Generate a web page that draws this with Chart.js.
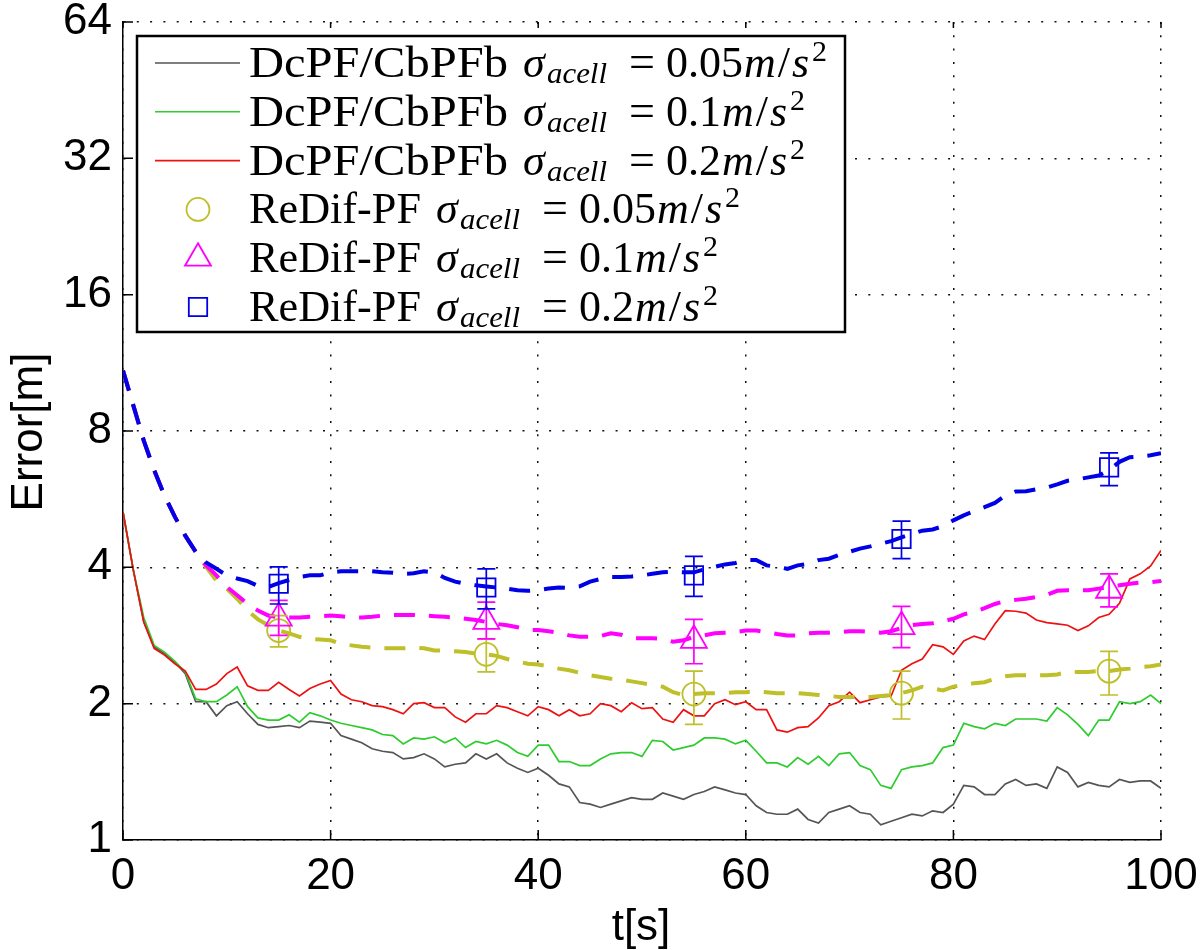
<!DOCTYPE html>
<html>
<head>
<meta charset="utf-8">
<script src="https://cdn.jsdelivr.net/npm/chart.js@4.4.0/dist/chart.umd.min.js"></script>
<style>
  body { margin: 0; background: #fff; }
  #contenedor { width: 1200px; height: 950px; }
</style>
</head>
<body>
<div id="contenedor"><canvas id="graficoError"></canvas></div>
<script>
// Eje de tiempo t[s]
const tiempos = Array.from({ length: 101 }, (_, i) => i);

// DcPF/CbPFb (lineas continuas)
const errorGris = [5.30, 3.94, 3.03, 2.67, 2.58, 2.47, 2.33, 2.02, 2.02, 1.88,
  1.98, 2.02, 1.90, 1.80, 1.77, 1.78, 1.79, 1.77, 1.83, 1.82,
  1.81, 1.70, 1.67, 1.64, 1.59, 1.57, 1.56, 1.51, 1.52, 1.55,
  1.51, 1.45, 1.47, 1.48, 1.55, 1.51, 1.55, 1.48, 1.44, 1.41,
  1.44, 1.39, 1.33, 1.31, 1.21, 1.20, 1.18, 1.20, 1.22, 1.24,
  1.23, 1.23, 1.27, 1.25, 1.23, 1.26, 1.28, 1.31, 1.29, 1.27,
  1.26, 1.19, 1.15, 1.14, 1.14, 1.17, 1.11, 1.09, 1.15, 1.17,
  1.19, 1.15, 1.14, 1.08, 1.10, 1.12, 1.14, 1.13, 1.16, 1.15,
  1.20, 1.32, 1.31, 1.26, 1.26, 1.33, 1.36, 1.32, 1.33, 1.30,
  1.45, 1.41, 1.31, 1.34, 1.32, 1.31, 1.36, 1.34, 1.35, 1.35, 1.30];
const errorVerde = [5.30, 3.94, 3.10, 2.69, 2.60, 2.48, 2.35, 2.05, 2.02, 2.02,
  2.09, 2.18, 1.97, 1.86, 1.84, 1.84, 1.89, 1.82, 1.91, 1.88,
  1.84, 1.81, 1.79, 1.77, 1.75, 1.71, 1.70, 1.63, 1.68, 1.67,
  1.69, 1.64, 1.68, 1.60, 1.65, 1.63, 1.66, 1.62, 1.56, 1.53,
  1.62, 1.62, 1.49, 1.49, 1.46, 1.46, 1.51, 1.55, 1.56, 1.56,
  1.53, 1.66, 1.65, 1.58, 1.60, 1.62, 1.68, 1.68, 1.67, 1.63,
  1.66, 1.57, 1.48, 1.48, 1.45, 1.52, 1.47, 1.53, 1.46, 1.55,
  1.56, 1.46, 1.43, 1.32, 1.30, 1.43, 1.45, 1.46, 1.48, 1.60,
  1.62, 1.81, 1.78, 1.76, 1.81, 1.79, 1.85, 1.85, 1.85, 1.83,
  1.96, 1.89, 1.80, 1.70, 1.84, 1.84, 2.02, 2.00, 2.02, 2.09, 2.00];
const errorRojo = [5.30, 3.94, 3.03, 2.65, 2.56, 2.45, 2.36, 2.15, 2.15, 2.21,
  2.33, 2.41, 2.19, 2.14, 2.14, 2.23, 2.15, 2.08, 2.16, 2.21,
  2.25, 2.10, 2.04, 2.02, 1.98, 1.97, 1.94, 1.90, 2.00, 2.01,
  1.96, 1.96, 1.87, 1.82, 1.90, 1.90, 1.98, 1.96, 1.92, 1.88,
  1.97, 1.94, 1.88, 1.94, 1.88, 1.90, 2.00, 1.98, 1.92, 2.01,
  1.95, 1.96, 1.85, 1.82, 1.94, 1.88, 1.88, 2.00, 2.04, 1.99,
  2.02, 1.94, 1.94, 1.75, 1.73, 1.77, 1.78, 1.86, 1.98, 2.02,
  2.12, 2.01, 2.04, 2.07, 2.08, 2.37, 2.45, 2.51, 2.70, 2.67,
  2.57, 2.75, 2.82, 2.77, 3.00, 3.21, 3.20, 3.17, 3.06, 3.02,
  3.00, 2.98, 2.90, 2.97, 3.10, 3.15, 3.33, 3.77, 3.87, 4.03, 4.36];

// ReDif-PF (lineas discontinuas)
const errorOliva = [10.88, 9.10, 7.62, 6.56, 5.76, 5.17, 4.70, 4.33, 4.01, 3.74,
  3.59, 3.41, 3.21, 3.07, 2.98, 2.90, 2.86, 2.81, 2.78, 2.77,
  2.76, 2.71, 2.69, 2.67, 2.66, 2.65, 2.65, 2.65, 2.66, 2.65,
  2.62, 2.62, 2.61, 2.60, 2.58, 2.57, 2.55, 2.51, 2.48, 2.45,
  2.44, 2.42, 2.39, 2.37, 2.34, 2.31, 2.29, 2.27, 2.26, 2.24,
  2.22, 2.20, 2.18, 2.12, 2.09, 2.10, 2.11, 2.11, 2.11, 2.12,
  2.12, 2.13, 2.12, 2.11, 2.11, 2.11, 2.10, 2.09, 2.08, 2.07,
  2.07, 2.07, 2.07, 2.08, 2.09, 2.11, 2.14, 2.18, 2.16, 2.14,
  2.18, 2.20, 2.22, 2.23, 2.27, 2.30, 2.31, 2.31, 2.31, 2.31,
  2.32, 2.35, 2.35, 2.35, 2.36, 2.36, 2.38, 2.39, 2.41, 2.42, 2.44];
const errorMagenta = [10.88, 9.10, 7.62, 6.56, 5.76, 5.17, 4.70, 4.33, 4.04, 3.84,
  3.62, 3.47, 3.32, 3.21, 3.13, 3.10, 3.10, 3.10, 3.11, 3.12,
  3.13, 3.12, 3.10, 3.10, 3.11, 3.13, 3.14, 3.14, 3.14, 3.13,
  3.12, 3.11, 3.10, 3.08, 3.06, 3.03, 3.00, 2.98, 2.95, 2.91,
  2.91, 2.89, 2.87, 2.83, 2.81, 2.81, 2.82, 2.86, 2.84, 2.79,
  2.79, 2.79, 2.78, 2.74, 2.76, 2.81, 2.83, 2.86, 2.87, 2.88,
  2.90, 2.90, 2.88, 2.85, 2.83, 2.83, 2.86, 2.87, 2.87, 2.88,
  2.89, 2.89, 2.88, 2.87, 2.89, 2.94, 2.98, 3.00, 3.01, 3.04,
  3.08, 3.15, 3.19, 3.25, 3.32, 3.37, 3.39, 3.41, 3.44, 3.48,
  3.55, 3.56, 3.56, 3.56, 3.59, 3.62, 3.65, 3.68, 3.70, 3.71, 3.73];
const errorAzul = [10.88, 9.10, 7.62, 6.56, 5.76, 5.17, 4.70, 4.33, 4.10, 3.97,
  3.84, 3.78, 3.73, 3.64, 3.62, 3.69, 3.75, 3.81, 3.84, 3.84,
  3.90, 3.92, 3.92, 3.92, 3.92, 3.90, 3.89, 3.87, 3.88, 3.92,
  3.90, 3.79, 3.72, 3.68, 3.65, 3.63, 3.61, 3.59, 3.56, 3.55,
  3.56, 3.59, 3.61, 3.60, 3.63, 3.72, 3.77, 3.81, 3.81, 3.82,
  3.84, 3.87, 3.90, 3.91, 3.90, 3.90, 3.96, 4.01, 4.06, 4.09,
  4.15, 4.15, 4.04, 4.01, 3.97, 4.04, 4.07, 4.15, 4.18, 4.26,
  4.33, 4.40, 4.45, 4.51, 4.57, 4.66, 4.74, 4.82, 4.85, 4.93,
  5.08, 5.21, 5.32, 5.43, 5.55, 5.76, 5.88, 5.89, 5.95, 6.00,
  6.10, 6.21, 6.26, 6.32, 6.38, 6.56, 6.84, 7.00, 7.03, 7.07, 7.15];

// Marcas con barras de error
const tiemposMarcas = [15, 35, 55, 75, 95];
const mediaCirculo = [2.90, 2.57, 2.10, 2.11, 2.36];
const bajoCirculo = [2.67, 2.35, 1.80, 1.85, 2.09];
const altoCirculo = [3.13, 2.78, 2.36, 2.36, 2.61];
const mediaTriangulo = [3.09, 3.04, 2.76, 2.96, 3.56];
const bajoTriangulo = [2.83, 2.78, 2.45, 2.66, 3.27];
const altoTriangulo = [3.38, 3.35, 3.07, 3.28, 3.87];
const mediaCuadrado = [3.68, 3.61, 3.84, 4.62, 6.65];
const bajoCuadrado = [3.32, 3.24, 3.45, 4.18, 6.06];
const altoCuadrado = [4.01, 3.97, 4.23, 5.06, 7.16];

const ticksY = [1, 2, 4, 8, 16, 32, 64];
const ticksX = [0, 20, 40, 60, 80, 100];

const nombresLeyenda = ['DcPF/CbPFb', 'DcPF/CbPFb', 'DcPF/CbPFb', 'ReDif-PF', 'ReDif-PF', 'ReDif-PF'];
const sigmasLeyenda = ['0.05', '0.1', '0.2', '0.05', '0.1', '0.2'];

const GRIS = '#555555', VERDE = '#2ecc2e', ROJO = '#ee1111';
const OLIVA = '#bfbf2a', MAGENTA = '#ff00ff', AZUL = '#0000e6';

const puntos = (valores) => valores.map((v, i) => ({ x: tiempos[i], y: v }));
const marcas = (valores) => valores.map((v, i) => ({ x: tiemposMarcas[i], y: v }));

const barras = [
  { color: OLIVA, bajo: bajoCirculo, alto: altoCirculo },
  { color: MAGENTA, bajo: bajoTriangulo, alto: altoTriangulo },
  { color: AZUL, bajo: bajoCuadrado, alto: altoCuadrado },
];

// Dibuja una marca como en la leyenda
function dibujarMarca(ctx, estilo, x, y, r) {
  ctx.beginPath();
  if (estilo === 'circle') {
    ctx.arc(x, y, r, 0, Math.PI * 2);
  } else if (estilo === 'triangle') {
    ctx.moveTo(x, y - r);
    ctx.lineTo(x + r * Math.sin(Math.PI / 3), y + r / 2);
    ctx.lineTo(x - r * Math.sin(Math.PI / 3), y + r / 2);
    ctx.closePath();
  } else {
    const s = r * Math.SQRT1_2;
    ctx.rect(x - s, y - s, 2 * s, 2 * s);
  }
  ctx.stroke();
}

function texto(ctx, t, x, y, fuente) {
  ctx.font = fuente;
  ctx.fillText(t, x, y);
  return x + ctx.measureText(t).width;
}

// Texto estirado en horizontal hasta un ancho dado
function textoAncho(ctx, t, x, y, fuente, ancho) {
  ctx.font = fuente;
  const k = ancho / ctx.measureText(t).width;
  ctx.save();
  ctx.translate(x, y);
  ctx.scale(k, 1);
  ctx.fillText(t, 0, 0);
  ctx.restore();
}

// Barras de error
const pluginBarras = {
  id: 'barrasError',
  afterDatasetsDraw(chart) {
    const { ctx, scales: { x, y } } = chart;
    barras.forEach(b => {
      ctx.save();
      ctx.strokeStyle = b.color;
      ctx.lineWidth = 1.7;
      tiemposMarcas.forEach((t, i) => {
        const px = x.getPixelForValue(t);
        const p1 = y.getPixelForValue(b.bajo[i]);
        const p2 = y.getPixelForValue(b.alto[i]);
        ctx.beginPath();
        ctx.moveTo(px, p1); ctx.lineTo(px, p2);
        ctx.moveTo(px - 9, p1); ctx.lineTo(px + 9, p1);
        ctx.moveTo(px - 9, p2); ctx.lineTo(px + 9, p2);
        ctx.stroke();
      });
      ctx.restore();
    });
  }
};

// Marcas de los ejes, titulos y leyenda
const pluginDecoracion = {
  id: 'decoracion',
  afterDraw(chart) {
    const { ctx, chartArea: a, scales: { x, y } } = chart;
    ctx.save();
    ctx.strokeStyle = '#000';
    ctx.lineWidth = 1.5;
    ctx.beginPath();
    ticksY.forEach(v => {
      const py = y.getPixelForValue(v);
      ctx.moveTo(a.left, py); ctx.lineTo(a.left + 10, py);
    });
    ticksX.forEach(v => {
      const px = x.getPixelForValue(v);
      ctx.moveTo(px, a.bottom); ctx.lineTo(px, a.bottom - 10);
      ctx.moveTo(px, a.top); ctx.lineTo(px, a.top + 6);
    });
    ctx.stroke();

    // titulos de los ejes
    ctx.fillStyle = '#000';
    ctx.font = "44px 'Liberation Sans'";
    ctx.textAlign = 'center';
    ctx.textBaseline = 'alphabetic';
    ctx.fillText('t[s]', 641, 940);
    ctx.save();
    ctx.translate(42, 432);
    ctx.rotate(-Math.PI / 2);
    ctx.fillText('Error[m]', 0, 0);
    ctx.restore();

    // leyenda
    ctx.fillStyle = '#fff';
    ctx.fillRect(137, 36, 708, 296);
    ctx.lineWidth = 2.5;
    ctx.strokeRect(137, 36, 708, 296);
    const colores = [GRIS, VERDE, ROJO, OLIVA, MAGENTA, AZUL];
    const estilos = ['', '', '', 'circle', 'triangle', 'rect'];
    const radios = [0, 0, 0, 11.5, 15, 13];
    nombresLeyenda.forEach((nombre, i) => {
      const yc = 63 + i * 48.8;
      const base = yc + 14;
      ctx.strokeStyle = colores[i];
      if (i < 3) {
        ctx.lineWidth = 1.6;
        ctx.beginPath();
        ctx.moveTo(155, yc); ctx.lineTo(240, yc);
        ctx.stroke();
      } else {
        ctx.lineWidth = 1.8;
        dibujarMarca(ctx, estilos[i], 198, yc, radios[i]);
      }
      ctx.fillStyle = '#000';
      ctx.textAlign = 'left';
      ctx.textBaseline = 'alphabetic';
      textoAncho(ctx, nombre, 249, base, "44px 'Liberation Serif'", i < 3 ? 259 : 172);
      const xs = i < 3 ? 523 : 436;
      texto(ctx, '\u03c3', xs, base, "italic 44px 'Liberation Serif'");
      textoAncho(ctx, 'acell', xs + 24, base + 6, "italic 30px 'Liberation Serif'", 60);
      let xx = xs + 106;
      xx = texto(ctx, '=', xx, base, "46px 'Liberation Serif'") + 11;
      xx = texto(ctx, sigmasLeyenda[i], xx, base, "44px 'Liberation Serif'") + 1;
      xx = texto(ctx, 'm', xx, base, "italic 44px 'Liberation Serif'") + 2;
      xx = texto(ctx, '/', xx, base, "44px 'Liberation Serif'") + 2;
      xx = texto(ctx, 's', xx, base, "italic 44px 'Liberation Serif'") + 3;
      texto(ctx, '2', xx, base - 16, "30px 'Liberation Serif'");
    });
    ctx.restore();
  }
};

const lineaContinua = (datos, color, orden) => ({
  data: puntos(datos), borderColor: color, borderWidth: 1.7,
  pointRadius: 0, tension: 0, order: orden,
});
const lineaDiscontinua = (datos, color, orden) => ({
  data: puntos(datos), borderColor: color, borderWidth: 4, borderDash: [21, 14],
  pointRadius: 0, tension: 0, order: orden,
});
const serieMarcas = (datos, color, estilo, radio, orden) => ({
  data: marcas(datos), showLine: false, pointStyle: estilo, pointRadius: radio,
  pointBorderColor: color, pointBackgroundColor: 'rgba(0,0,0,0)', pointBorderWidth: 1.8,
  order: orden,
});

const ctx = document.getElementById('graficoError').getContext('2d');
const grafico = new Chart(ctx, {
  type: 'line',
  data: {
    datasets: [
      lineaContinua(errorGris, GRIS, 9),
      lineaContinua(errorVerde, VERDE, 8),
      lineaContinua(errorRojo, ROJO, 7),
      lineaDiscontinua(errorOliva, OLIVA, 6),
      lineaDiscontinua(errorMagenta, MAGENTA, 5),
      lineaDiscontinua(errorAzul, AZUL, 4),
      serieMarcas(mediaCirculo, OLIVA, 'circle', 11.5, 3),
      serieMarcas(mediaTriangulo, MAGENTA, 'triangle', 15, 2),
      serieMarcas(mediaCuadrado, AZUL, 'rect', 13, 1),
    ],
  },
  options: {
    responsive: true,
    maintainAspectRatio: false,
    animation: false,
    devicePixelRatio: 1,
    layout: { padding: { top: 22, right: 39, bottom: 0, left: 0 } },
    plugins: { legend: { display: false }, tooltip: { enabled: false } },
    scales: {
      x: {
        type: 'linear', min: 0, max: 100,
        afterBuildTicks: (s) => { s.ticks = ticksX.map(v => ({ value: v })); },
        afterFit: (s) => { s.height = 110; s.paddingLeft = 0; s.paddingRight = 0; },
        ticks: { color: '#000', font: { family: 'Liberation Sans', size: 44 }, padding: 10, autoSkip: false, maxRotation: 0 },
        grid: { color: '#111', lineWidth: 1.5, drawTicks: false },
        border: { display: true, color: '#000', width: 1.5, dash: [2, 11.3] },
      },
      y: {
        type: 'logarithmic', min: 1, max: 64,
        afterBuildTicks: (s) => { s.ticks = ticksY.map(v => ({ value: v })); },
        afterFit: (s) => { s.width = 123; s.paddingTop = 0; s.paddingBottom = 0; },
        ticks: { color: '#000', font: { family: 'Liberation Sans', size: 44 }, padding: 11, autoSkip: false, callback: (v) => String(v) },
        grid: { color: '#111', lineWidth: 1.5, drawTicks: false },
        border: { display: true, color: '#000', width: 1.5, dash: [2, 11.3] },
      },
    },
  },
  plugins: [pluginBarras, pluginDecoracion],
});
</script>
</body>
</html>
